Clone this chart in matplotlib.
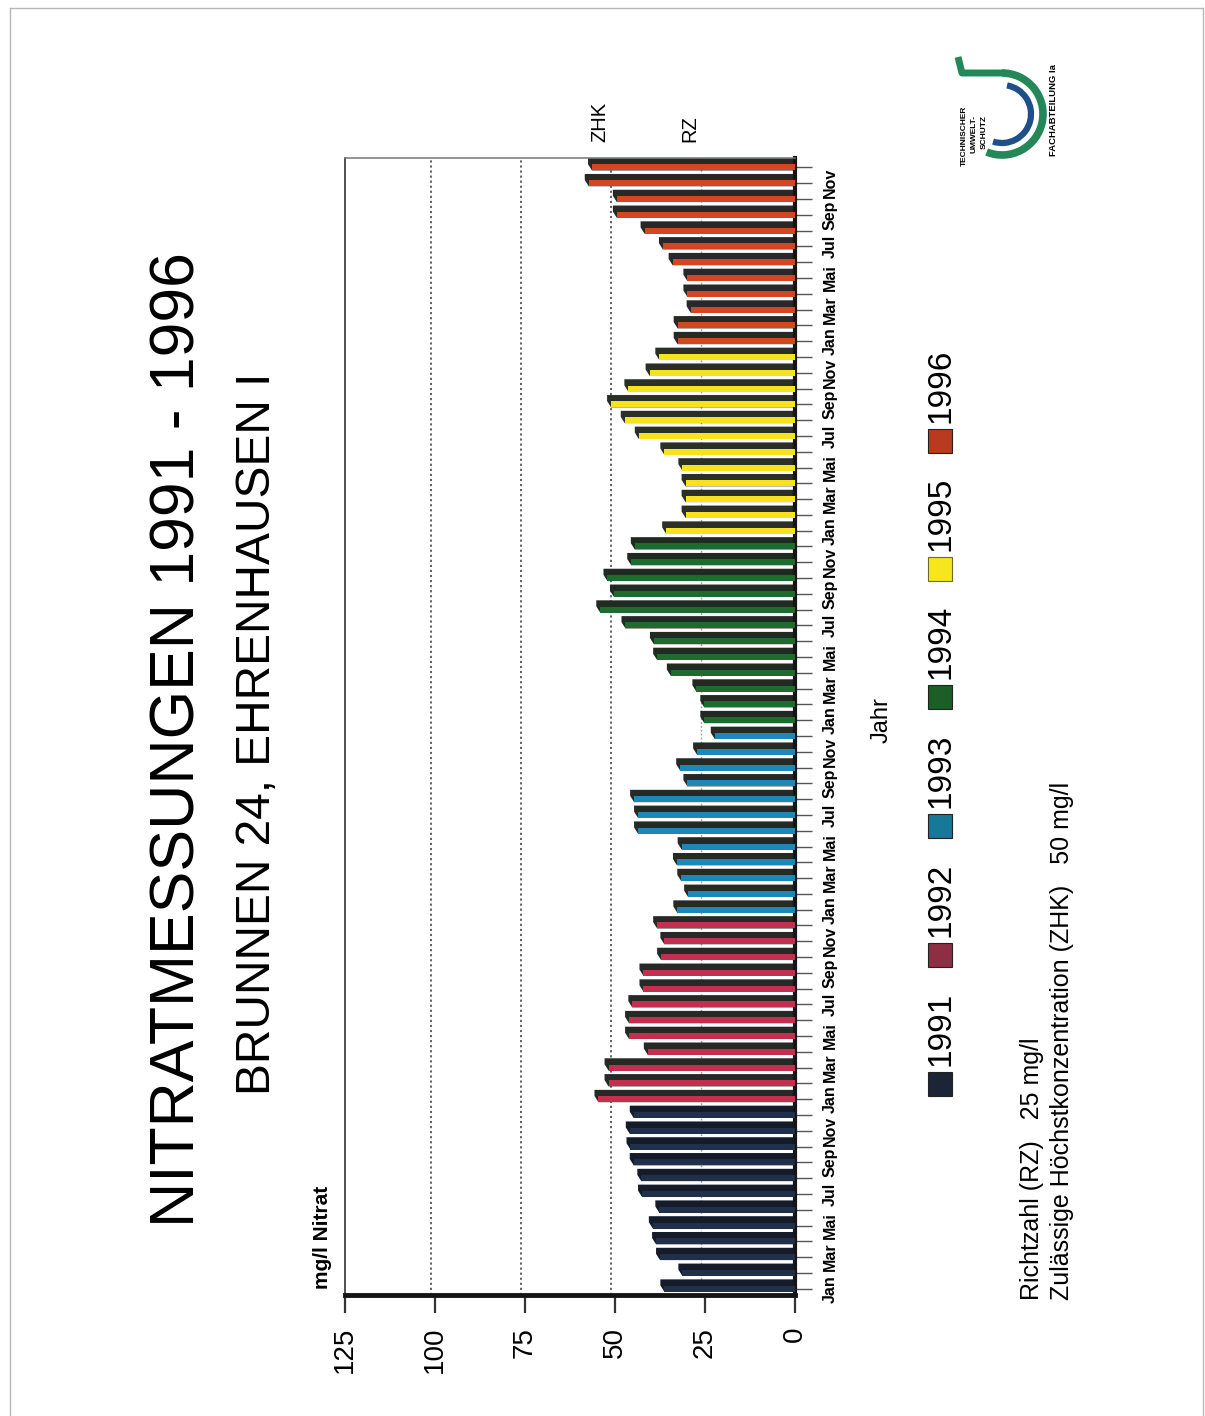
import matplotlib
matplotlib.use("Agg")
import matplotlib.pyplot as plt
import numpy as np
from matplotlib.patches import Polygon, Rectangle, Arc
from matplotlib.lines import Line2D

# Monthly nitrate readings, mg/l, Jan..Dec per year
years = ["1991", "1992", "1993", "1994", "1995", "1996"]
no3_1991 = [36.3, 31.3, 37.5, 38.6, 39.5, 37.7, 42.5, 42.7, 44.8, 45.7, 45.9, 44.8]
no3_1992 = [54.6, 51.8, 51.8, 40.9, 46.1, 46.1, 45.2, 42.1, 42.1, 37.2, 36.3, 38.3]
no3_1993 = [32.7, 29.7, 31.6, 32.8, 31.5, 43.6, 43.6, 44.7, 29.9, 31.9, 27.2, 22.3]
no3_1994 = [25.2, 25.2, 27.4, 34.5, 38.3, 39.2, 47.1, 54.1, 50.3, 52.1, 45.5, 44.5]
no3_1995 = [35.8, 30.4, 30.4, 30.4, 31.3, 36.3, 43.4, 47.3, 51.1, 46.3, 40.4, 37.7]
no3_1996 = [32.6, 32.6, 29.0, 29.9, 29.9, 34.0, 36.7, 41.8, 49.5, 49.5, 57.3, 56.4]
series = [no3_1991, no3_1992, no3_1993, no3_1994, no3_1995, no3_1996]

month_labels = ["Jan", "Mar", "Mai", "Jul", "Sep", "Nov"]
value_ticks = [0, 25, 50, 75, 100, 125]
rz_value = 25     # Richtzahl
zhk_value = 50    # Zulässige Höchstkonzentration

face_colors = ["#1f2f4c", "#c3304f", "#1d88b8", "#1f6a2d", "#f6e31c", "#d2471f"]
legend_colors = ["#1a2535", "#8e2e42", "#16799a", "#1c5e26", "#f5e61e", "#b83b1f"]
side_colors = ["#141c2a", "#262a27", "#262a27", "#1f2a22", "#2b2f27", "#262a27"]

W, H = 1205, 1416
fig = plt.figure(figsize=(W / 100, H / 100), dpi=100)
fig.patch.set_facecolor("white")
SANS = ["Liberation Sans", "DejaVu Sans"]


def px(x, y):
    return x / W, 1 - y / H


def text(x, y, s, **kw):
    fx, fy = px(x, y)
    kw.setdefault("rotation", 90)
    kw.setdefault("rotation_mode", "anchor")
    kw.setdefault("family", SANS)
    fig.text(fx, fy, s, **kw)


# page frame
for (x0, y0, x1, y1) in [(10, 8, 1203, 8), (10, 8, 10, 1416), (1203, 8, 1203, 1416)]:
    a, b = px(x0, y0)
    c, d = px(x1, y1)
    fig.add_artist(Line2D([a, c], [b, d], color="#b8b8b8", lw=1.0))

# main axes: value axis runs horizontally (0 on the right), months run upward
ax_l, ax_r, ax_t, ax_b = 345, 795, 158, 1295
ax = fig.add_axes([ax_l / W, 1 - ax_b / H, (ax_r - ax_l) / W, (ax_b - ax_t) / H])
ax.set_xlim(125, 0)
ax.set_ylim(-0.4, 71.6)

depth_v = 1.1   # 3-D depth along the value axis
depth_y = 0.40  # 3-D depth along the month axis
half = 0.19

# back-wall grid lines
for g in [25, 50, 75, 100]:
    ax.plot([g + depth_v, g + depth_v], [-0.4, 71.6],
            color="#9a9a9a" if g == 25 else "#555555",
            lw=1.0 if g == 25 else 1.3,
            ls=(0, (1.2, 1.6)), zorder=1)

for k, vals in enumerate(series):
    pos = np.arange(12) + 12 * k
    for p, v in zip(pos, vals):
        b, t = p - half, p + half
        side = Polygon([(0, b), (v, b), (v + depth_v, b + depth_y),
                        (v + depth_v, t + depth_y), (0, t + depth_y)],
                       closed=True, facecolor=side_colors[k], edgecolor="none", zorder=2)
        ax.add_patch(side)
    ax.barh(pos, vals, height=2 * half, left=0, color=face_colors[k],
            edgecolor="none", zorder=3)

# axes frame
for s in ["top", "left"]:
    ax.spines[s].set_linewidth(1.1)
ax.spines["top"].set_color("#777777")
ax.spines["left"].set_color("#222222")
ax.spines["right"].set_linewidth(3.0)
ax.spines["right"].set_color("#151515")
ax.spines["bottom"].set_linewidth(3.5)
ax.spines["bottom"].set_color("#151515")

ax.set_xticks(value_ticks)
ax.set_xticklabels([str(v) for v in value_ticks], rotation=90,
                   fontsize=20, family=SANS)
ax.tick_params(axis="x", direction="out", length=13, width=1.6,
               color="#333333", pad=10)

ax.yaxis.tick_right()
ax.set_yticks(np.arange(72))
ylabels = [month_labels[(i % 12) // 2] if i % 2 == 0 else "" for i in range(72)]
ax.set_yticklabels(ylabels, rotation=90, fontsize=11.5, fontweight="bold",
                   family=SANS, va="center")
ax.tick_params(axis="y", direction="out", length=12, width=1.0,
               color="#555555", pad=8)

# limit labels above the plot
text(600, 142, "ZHK", fontsize=14.5, ha="left", va="center")
text(690, 142, "RZ", fontsize=14.5, ha="left", va="center")

# titles
text(178, 740, "NITRATMESSUNGEN 1991 - 1996", fontsize=45, ha="center", va="center")
text(258, 734, "BRUNNEN 24, EHRENHAUSEN I", fontsize=34.5, ha="center", va="center")
text(323, 1237, "mg/l Nitrat", fontsize=15, fontweight="bold", ha="center", va="center")
text(882, 720, "Jahr", fontsize=17, ha="center", va="center")

# legend
leg_sq_y = [1084, 955, 826, 697, 569, 441]
for yr, yc, c in zip(years, leg_sq_y, legend_colors):
    fx, fy = px(928, yc + 12)
    fig.add_artist(Rectangle((fx, fy), 24 / W, 24 / H, transform=fig.transFigure,
                             facecolor=c, edgecolor="#6b6b2a" if yr == "1995" else "#222222",
                             lw=0.8))
    text(941, yc - 18, yr, fontsize=24, ha="left", va="center")

# reference values
text(1032, 1300, "Richtzahl (RZ)   25 mg/l", fontsize=18, ha="left", va="center")
text(1062, 1300, "Zulässige Höchstkonzentration (ZHK)   50 mg/l", fontsize=18,
     ha="left", va="center")

# department logo (drawn in page pixel coordinates, y pointing down)
lg = fig.add_axes([940 / W, 1 - 180 / H, 130 / W, 135 / H])
lg.set_xlim(940, 1070)
lg.set_ylim(180, 45)
lg.set_aspect("equal")
lg.axis("off")
lg.add_patch(Arc((1002, 114), 82, 82, theta1=-90, theta2=112, color="#23875a", lw=5.5))
lg.add_patch(Arc((1002, 114), 58, 58, theta1=-80, theta2=108, color="#1e4f8a", lw=4.5))
lg.plot([958, 962, 1003], [57, 73, 73], color="#23875a", lw=5, solid_capstyle="butt")
for xx, yy, s in [(964, 136, "TECHNISCHER"), (974, 134, "UMWELT-"), (984, 132, "SCHUTZ")]:
    lg.text(xx, yy, s, rotation=90, fontsize=6.0, fontweight="bold",
            ha="center", va="center", family=SANS)
lg.text(1054, 110, "FACHABTEILUNG Ia", rotation=90, fontsize=6.8, fontweight="bold",
        ha="center", va="center", family=SANS)

fig.savefig("out.png", dpi=100, facecolor="white")
